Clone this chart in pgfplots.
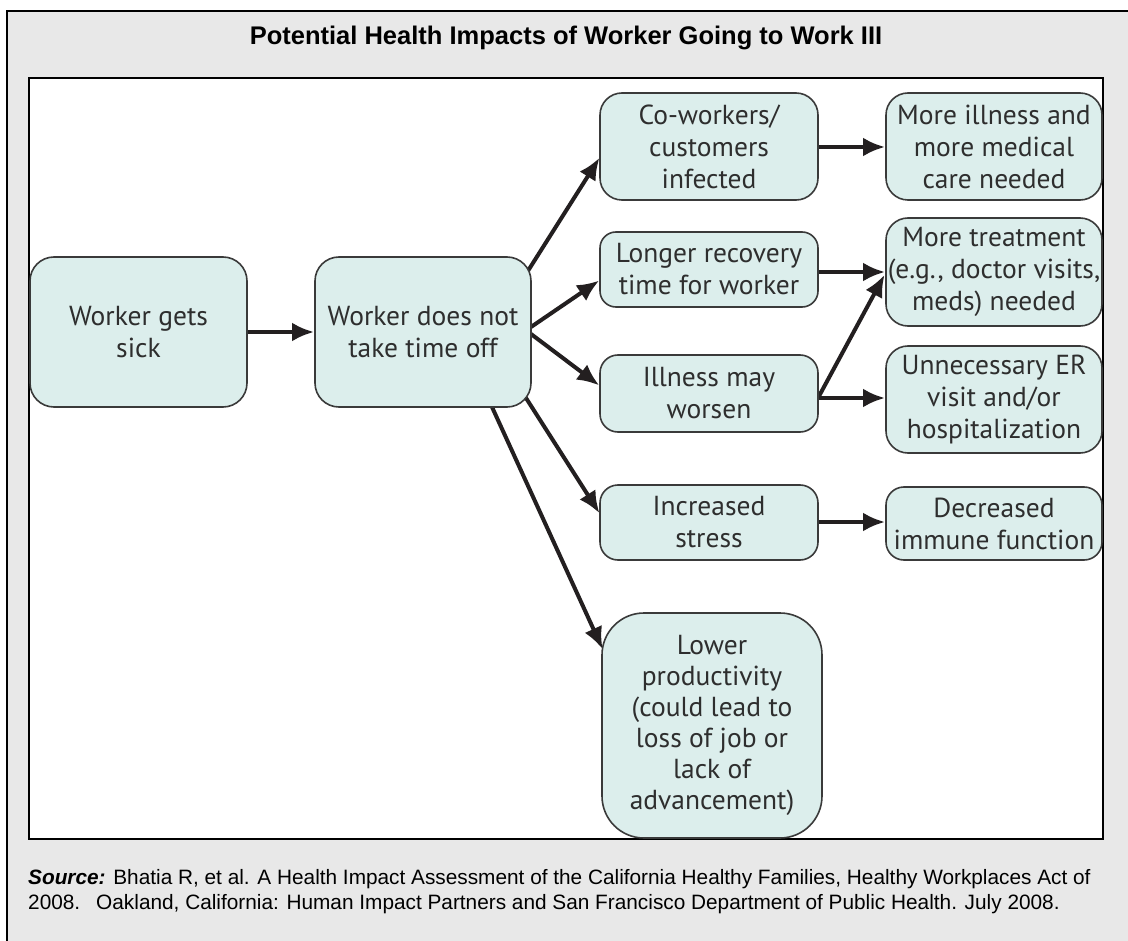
\documentclass[border=0pt]{standalone}
\usepackage{pgfplots}
\pgfplotsset{compat=1.18}
\usepackage{fontspec}
\usetikzlibrary{arrows.meta}
\newfontfamily\boxfont{PT Sans}
\newfontfamily\arialfont{Liberation Sans}
\definecolor{bgGray}{HTML}{E8E8E8}
\definecolor{boxFill}{HTML}{DCEEEC}
\definecolor{boxLine}{HTML}{3A3A3A}
\definecolor{arrowCol}{HTML}{231F20}
\definecolor{txt}{HTML}{2E2E2E}
\begin{document}
\begin{tikzpicture}
\begin{axis}[
  scale only axis, width=1128pt, height=941pt,
  xmin=0, xmax=1128, ymin=0, ymax=941, y dir=reverse,
  axis lines=none, ticks=none, clip=false,
  flow/.style={line width=4pt, color=arrowCol, -{Latex[length=22pt,width=19pt]}, shorten >=1pt},
]
% background frame
\fill[bgGray] (axis cs:7,11) rectangle (axis cs:1160,980);
\draw[line width=2.6pt, black] (axis cs:7,980) -- (axis cs:7,11) -- (axis cs:1160,11);
\fill[white] (axis cs:29,78) rectangle (axis cs:1103,839);
\draw[line width=2.6pt, black] (axis cs:29,78) rectangle (axis cs:1103,839);
% title
\node[anchor=base, inner sep=0pt, font=\arialfont\bfseries\fontsize{25.5}{30}\selectfont] at (axis cs:566,45) {Potential Health Impacts of Worker Going to Work III};
% source
\node[anchor=base west, inner sep=0pt, font=\arialfont\fontsize{20.8}{25}\selectfont] at (axis cs:28,884) {\textbf{\textit{Source:}} Bhatia R, et al. A Health Impact Assessment of the California Healthy Families, Healthy Workplaces Act of};
\node[anchor=base west, inner sep=0pt, font=\arialfont\fontsize{20.8}{25}\selectfont] at (axis cs:28,909) {2008.\hspace{16pt}Oakland, California: Human Impact Partners and San Francisco Department of Public Health. July 2008.};

% arrows
\addplot[flow] coordinates {(247,332) (315,332)};
\addplot[flow] coordinates {(526,274) (600,157)};
\addplot[flow] coordinates {(531,327) (600,280)};
\addplot[flow] coordinates {(531,334) (600,386)};
\addplot[flow] coordinates {(526,398) (600,514)};
\addplot[flow] coordinates {(492,407) (603,650)};
\addplot[flow] coordinates {(818,147) (886,147)};
\addplot[flow] coordinates {(818,272) (886,272)};
\addplot[flow] coordinates {(818,398) (885,274)};
\addplot[flow] coordinates {(818,398) (886,398)};
\addplot[flow] coordinates {(818,522) (886,522)};

\tikzset{bx/.style={draw=boxLine, fill=boxFill, line width=1.6pt, inner sep=0pt, align=center, text=txt,
   font=\boxfont\fontsize{27.5}{32}\selectfont}}
% boxes: centre, size
\node[bx, rounded corners=24pt, minimum width=217pt, minimum height=150pt] at (axis cs:138.5,332) {Worker gets\\sick};
\node[bx, rounded corners=24pt, minimum width=216pt, minimum height=150pt] at (axis cs:423,332) {Worker does not\\take time off};
\node[bx, rounded corners=22pt, minimum width=218pt, minimum height=107pt] at (axis cs:709,146.5) {Co-workers/\\customers\\infected};
\node[bx, rounded corners=16pt, minimum width=218pt, minimum height=75pt] at (axis cs:709,269.5) {Longer recovery\\time for worker};
\node[bx, rounded corners=18pt, minimum width=218pt, minimum height=77pt] at (axis cs:709,393.5) {Illness may\\worsen};
\node[bx, rounded corners=18pt, minimum width=218pt, minimum height=75pt] at (axis cs:709,522.5) {Increased\\stress};
\node[bx, rounded corners=42pt, minimum width=220pt, minimum height=225pt, font=\boxfont\fontsize{27.5}{31}\selectfont] at (axis cs:712,725.5) {Lower\\productivity\\(could lead to\\loss of job or\\lack of\\advancement)};
\node[bx, rounded corners=22pt, minimum width=216pt, minimum height=107pt] at (axis cs:994,146.5) {More illness and\\more medical\\care needed};
\node[bx, rounded corners=22pt, minimum width=216pt, minimum height=108pt] at (axis cs:994,272) {More treatment\\(e.g., doctor visits,\\meds) needed};
\node[bx, rounded corners=22pt, minimum width=216pt, minimum height=107pt] at (axis cs:994,399.5) {Unnecessary ER\\visit and/or\\hospitalization};
\node[bx, rounded corners=18pt, minimum width=216pt, minimum height=73pt] at (axis cs:994,523.5) {Decreased\\immune function};
\end{axis}
\pgfresetboundingbox
\path[use as bounding box] (current axis.south west) rectangle (current axis.north east);
\end{tikzpicture}
\end{document}
